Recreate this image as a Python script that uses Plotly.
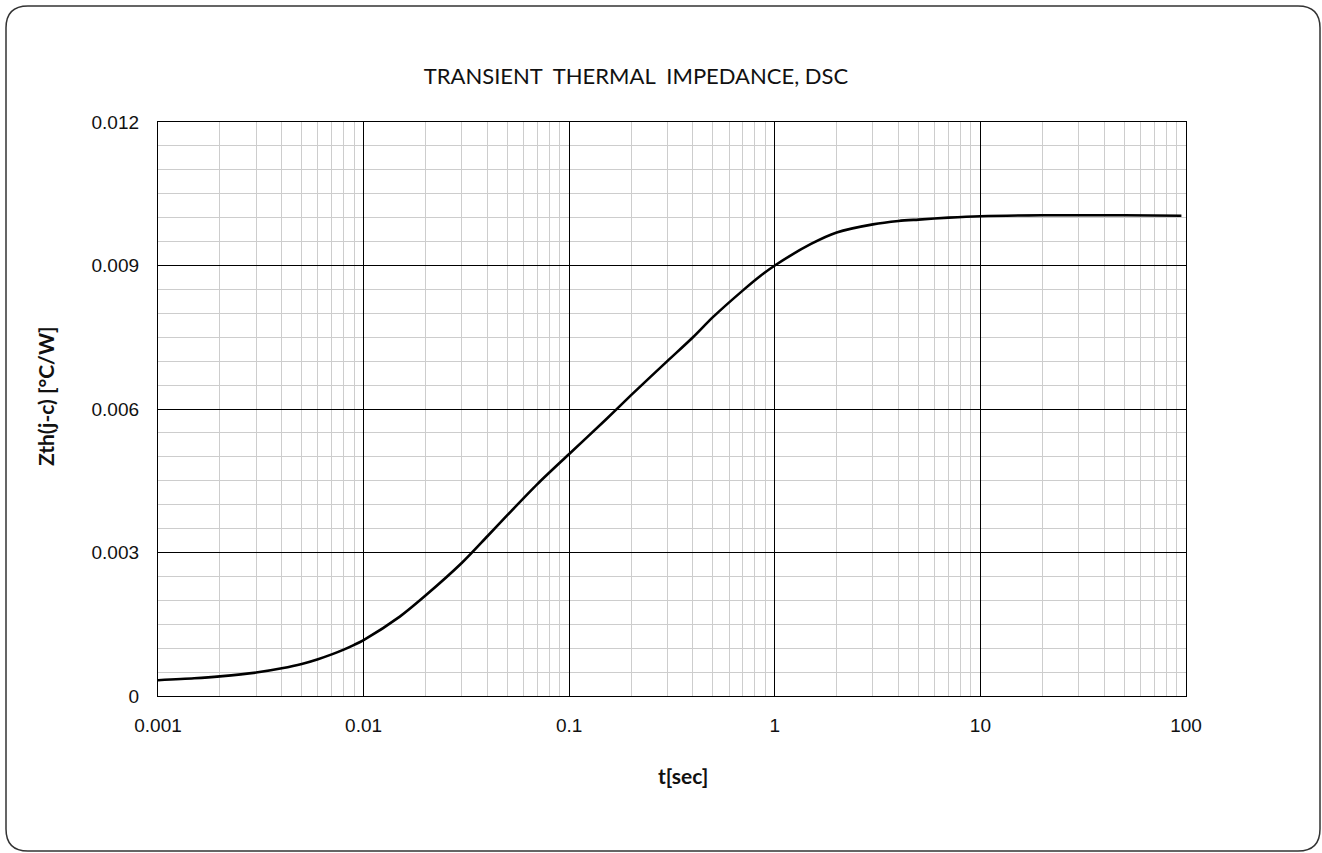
import plotly.graph_objects as go

# Data
t_sec = [0.001, 0.0015, 0.002, 0.003, 0.004, 0.005, 0.006, 0.007, 0.008, 0.009,
         0.01, 0.015, 0.02, 0.03, 0.04, 0.05, 0.07, 0.1, 0.15, 0.2, 0.3, 0.4,
         0.5, 0.7, 0.85, 1.0, 1.5, 2.0, 3, 4, 5, 7, 10, 20, 50, 95]
zth = [0.00033, 0.00037, 0.00041, 0.00049, 0.00058, 0.00067, 0.00077, 0.00087,
       0.00097, 0.00107, 0.00117, 0.00166, 0.00210, 0.00278, 0.00334, 0.00378,
       0.00443, 0.00506, 0.00577, 0.00629, 0.0070, 0.0075, 0.00792, 0.00848,
       0.00878, 0.0090, 0.00945, 0.00969, 0.00986, 0.00993, 0.00996, 0.0100,
       0.01003, 0.01005, 0.01005, 0.01004]

x_tickvals = [0.001, 0.01, 0.1, 1, 10, 100]
x_ticktext = ["0.001", "0.01", "0.1", "1", "10", "100"]
y_tickvals = [0, 0.003, 0.006, 0.009, 0.012]
y_ticktext = ["0", "0.003", "0.006", "0.009", "0.012"]

title_text = "TRANSIENT\u00a0\u00a0THERMAL\u00a0\u00a0IMPEDANCE,\u00a0DSC"
x_title = "t[sec]"
y_title = "Zth(j-c) [°C/W]"

W, H = 1322, 853
L, R, T, B = 158, 1186, 122, 696

x_minor = [k * 10.0 ** e for e in range(-3, 2) for k in range(2, 10)]

fig = go.Figure()
fig.add_trace(go.Scatter(
    x=t_sec, y=zth, mode="lines",
    line=dict(color="black", width=2.6, shape="spline", smoothing=0.8),
    showlegend=False, hoverinfo="skip",
))

grid_minor = "#cdcdcd"
tick_font = dict(family="Liberation Sans, Arial", size=19, color="#111")

fig.update_xaxes(
    type="log", range=[-3, 2],
    tickmode="array", tickvals=x_tickvals, ticktext=x_ticktext,
    showgrid=True, gridcolor="black", gridwidth=1,
    minor=dict(tickmode="array", tickvals=x_minor, showgrid=True,
               gridcolor=grid_minor, gridwidth=1.3, ticks=""),
    ticks="", showline=True, linecolor="black", linewidth=1.3, mirror=True,
    zeroline=False, tickfont=tick_font, ticklabelstandoff=12,
)
fig.update_yaxes(
    range=[0, 0.012],
    tickmode="array", tickvals=y_tickvals, ticktext=y_ticktext,
    showgrid=True, gridcolor="black", gridwidth=1,
    minor=dict(dtick=0.0005, tick0=0, showgrid=True,
               gridcolor=grid_minor, gridwidth=1.3, ticks=""),
    ticks="", showline=True, linecolor="black", linewidth=1.3, mirror=True,
    zeroline=False, tickfont=tick_font, ticklabelstandoff=14,
)


def px(xp):
    return (xp - L) / (R - L)


def py(yp):
    return (B - yp) / (B - T)


# axis titles
title_font = dict(family="Lato, Open Sans", size=21, color="#111")
fig.add_annotation(text="<b>" + x_title + "</b>", x=px(683), y=py(775),
                   xref="paper", yref="paper", showarrow=False,
                   xanchor="center", yanchor="middle", font=title_font)
fig.add_annotation(text="<b>" + y_title + "</b>", x=px(45), y=py(396),
                   xref="paper", yref="paper", showarrow=False, textangle=-90,
                   xanchor="center", yanchor="middle", font=title_font)

# rounded outer frame
x0, x1, y0, y1, r = 6, 1320, 6, 851, 22
path = (
    f"M {px(x0 + r)},{py(y0)} L {px(x1 - r)},{py(y0)} "
    f"Q {px(x1)},{py(y0)} {px(x1)},{py(y0 + r)} "
    f"L {px(x1)},{py(y1 - r)} Q {px(x1)},{py(y1)} {px(x1 - r)},{py(y1)} "
    f"L {px(x0 + r)},{py(y1)} Q {px(x0)},{py(y1)} {px(x0)},{py(y1 - r)} "
    f"L {px(x0)},{py(y0 + r)} Q {px(x0)},{py(y0)} {px(x0 + r)},{py(y0)} Z"
)
fig.add_shape(type="path", path=path, xref="paper", yref="paper",
              line=dict(color="#333333", width=1.5), layer="below")

fig.update_layout(
    width=W, height=H,
    margin=dict(l=L, r=W - R, t=T, b=H - B),
    paper_bgcolor="white", plot_bgcolor="white",
    title=dict(text=title_text, x=636 / W, xanchor="center", xref="container",
               y=1 - 76 / H, yanchor="middle", yref="container",
               font=dict(family="Lato, Open Sans", size=22, color="#111")),
)

fig.write_html("out.html", config={"displayModeBar": False},
               post_script="document.body.style.margin='0px';")
